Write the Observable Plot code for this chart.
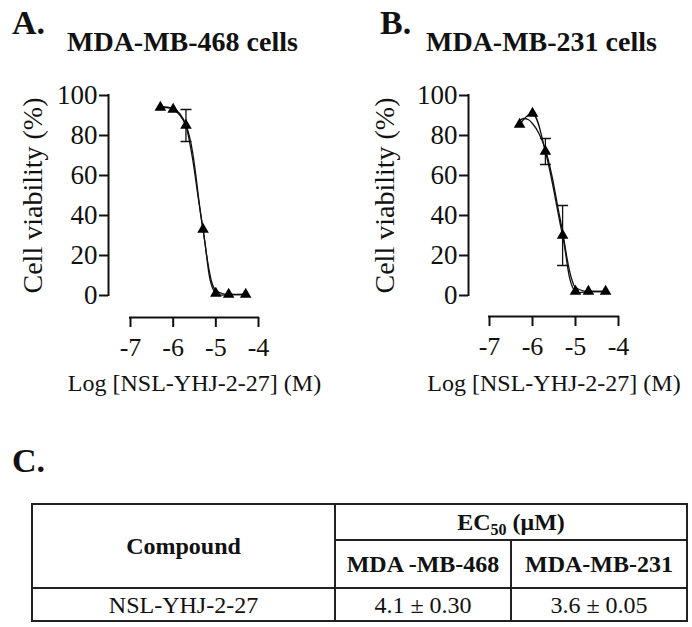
<!DOCTYPE html>
<html>
<head>
<meta charset="utf-8">
<script src="https://cdn.jsdelivr.net/npm/d3@7"></script>
<script src="https://cdn.jsdelivr.net/npm/@observablehq/plot@0.6"></script>
<style>
  html, body { margin: 0; padding: 0; background: #fff; }
  #page { position: relative; width: 692px; height: 627px; overflow: hidden; background: #fff;
          font-family: "Liberation Serif", "Times New Roman", serif; color: #111; }
  .abs { position: absolute; line-height: 1; white-space: nowrap; }
  .letter { font-weight: bold; font-size: 34px; }
  .title { font-weight: bold; font-size: 28px; }
  #tbl { position: absolute; left: 31px; top: 503px; width: 655px; border-collapse: collapse;
         table-layout: fixed; font-size: 24px; }
  #tbl td { border: 2px solid #222; text-align: center; vertical-align: middle; padding: 0; line-height: 1; }
  #tbl .b { font-weight: bold; }
  sub { font-size: 16px; vertical-align: -5px; line-height: 0; }
</style>
</head>
<body>
<div id="page">
  <div class="abs letter" style="left:12px; top:6px;">A.</div>
  <div class="abs title" style="left:67px; top:28px;">MDA-MB-468 cells</div>
  <div class="abs letter" style="left:380px; top:6px;">B.</div>
  <div class="abs title" style="left:426px; top:28px;">MDA-MB-231 cells</div>
  <div id="plotA" class="abs" style="left:0; top:0;"></div>
  <div id="plotB" class="abs" style="left:346px; top:0;"></div>
  <div class="abs letter" style="left:12px; top:444px;">C.</div>
  <table id="tbl">
    <colgroup><col style="width:303px"><col style="width:176px"><col style="width:176px"></colgroup>
    <tr style="height:36px"><td class="b" rowspan="2" id="hCompound"></td><td class="b" colspan="2" id="hEC"></td></tr>
    <tr style="height:48px"><td class="b" id="hA"></td><td class="b" id="hB"></td></tr>
    <tr style="height:33px"><td id="rName"></td><td id="rA"></td><td id="rB"></td></tr>
  </table>
</div>
<script>
// ---- data ----
const xTicks = [-7, -6, -5, -4];
const yTicks = [0, 20, 40, 60, 80, 100];
const logConc = [-6.3, -6.0, -5.7, -5.3, -5.0, -4.7, -4.3];
const viabilityA = [94, 93, 85, 33, 1, 0.5, 0.5];
const errorA = [0, 0, 8, 0, 0, 0, 0];
const viabilityB = [85.5, 91, 72, 30, 2, 2, 2];
const errorB = [0, 0, 6.5, 15, 0, 0, 0];
// fitted curves, read at several concentrations
const fitXA = [-6.3, -6.0, -5.85, -5.7, -5.55, -5.4, -5.3, -5.2, -5.1, -5.0, -4.85, -4.7, -4.3];
const fitYA = [94.5, 93.5, 91, 85, 69, 47, 33, 18, 7, 2.5, 1, 0.5, 0.5];
const fitXB = [-6.3, -6.2, -6.1, -6.0, -5.85, -5.7, -5.55, -5.4, -5.3, -5.2, -5.1, -5.0, -4.7, -4.3];
const fitYB = [87.5, 88.5, 88, 86, 81, 73, 60, 43, 32, 19, 9, 4, 2, 2];
const yLabel = "Cell viability (%)";
const xLabel = "Log [NSL-YHJ-2-27] (M)";
// table
const tableHeader = ["Compound", "EC50 (μM)", "MDA -MB-468", "MDA-MB-231"];
const compoundNames = ["NSL-YHJ-2-27"];
const ec50A = ["4.1 ± 0.30"];
const ec50B = ["3.6 ± 0.05"];

const capSymbol = {
  draw(ctx, size) {
    const r = Math.sqrt(size / Math.PI);
    ctx.moveTo(-r, 0);
    ctx.lineTo(r, 0);
  }
};

function panel(vals, errs, fitX, fitY, left, plotW, off, yLabelDx) {
  const pts = logConc.map((x, i) => ({x, y: vals[i], e: errs[i]}));
  const errPts = pts.filter(d => d.e > 0).map(d => ({x: d.x, lo: d.y - d.e, hi: d.y + d.e}));
  const fit = fitX.map((x, i) => ({x, y: fitY[i]}));
  const W = 346;
  return Plot.plot({
    width: W, height: 400,
    marginLeft: left, marginRight: W - left - plotW, marginTop: 95, marginBottom: 105,
    x: {domain: [xTicks[0], xTicks[xTicks.length - 1]]},
    y: {domain: [yTicks[0], yTicks[yTicks.length - 1]]},
    style: {fontFamily: "'Liberation Serif', 'Times New Roman', serif", fontSize: "27px", color: "#111", background: "transparent", overflow: "visible"},
    marks: [
      Plot.ruleX([xTicks[0]], {y1: () => yTicks[0], y2: () => yTicks[yTicks.length - 1], dx: -off, strokeWidth: 2, strokeLinecap: "square"}),
      Plot.ruleY([yTicks[0]], {x1: () => xTicks[0], x2: () => xTicks[xTicks.length - 1], dy: off, strokeWidth: 2, strokeLinecap: "square"}),
      Plot.axisY({ticks: yTicks, tickSize: 9, tickPadding: 2, dx: -off, strokeWidth: 2, fontSize: 27, label: null, tickFormat: d => String(d)}),
      Plot.axisX({ticks: xTicks, tickSize: 10, tickPadding: 10, dy: off, strokeWidth: 2, fontSize: 26, label: null, tickFormat: d => String(d)}),
      Plot.text([yLabel], {frameAnchor: "left", rotate: -90, dx: yLabelDx, fontSize: 28, textAnchor: "middle", lineAnchor: "middle"}),
      Plot.text([xLabel], {frameAnchor: "bottom", dy: 88, fontSize: 24, textAnchor: "middle", lineAnchor: "middle"}),
      Plot.line(fit, {x: "x", y: "y", curve: "monotone-x", stroke: "#111", strokeWidth: 1.3}),
      Plot.line(pts, {x: "x", y: "y", curve: "catmull-rom", stroke: "#111", strokeWidth: 1.3}),
      Plot.ruleX(errPts, {x: "x", y1: "lo", y2: "hi", stroke: "#111", strokeWidth: 1.3}),
      Plot.dot(errPts, {x: "x", y: "lo", r: 5.5, symbol: capSymbol, stroke: "#111", strokeWidth: 1.5, fill: "none"}),
      Plot.dot(errPts, {x: "x", y: "hi", r: 5.5, symbol: capSymbol, stroke: "#111", strokeWidth: 1.5, fill: "none"}),
      Plot.dot(pts, {x: "x", y: "y", symbol: "triangle", r: 4.3, fill: "#000", stroke: "none"})
    ]
  });
}

document.getElementById("plotA").appendChild(panel(viabilityA, errorA, fitXA, fitYA, 130, 128, 22, -97));
document.getElementById("plotB").appendChild(panel(viabilityB, errorB, fitXB, fitYB, 143, 129, 21, -104));

// table text
document.getElementById("hCompound").textContent = tableHeader[0];
const ec = document.getElementById("hEC");
ec.innerHTML = "";
ec.append("EC");
const sub = document.createElement("sub"); sub.textContent = "50"; ec.append(sub);
ec.append(" (μM)");
document.getElementById("hA").textContent = tableHeader[2];
document.getElementById("hB").textContent = tableHeader[3];
document.getElementById("rName").textContent = compoundNames[0];
document.getElementById("rA").textContent = ec50A[0];
document.getElementById("rB").textContent = ec50B[0];
</script>
</body>
</html>
